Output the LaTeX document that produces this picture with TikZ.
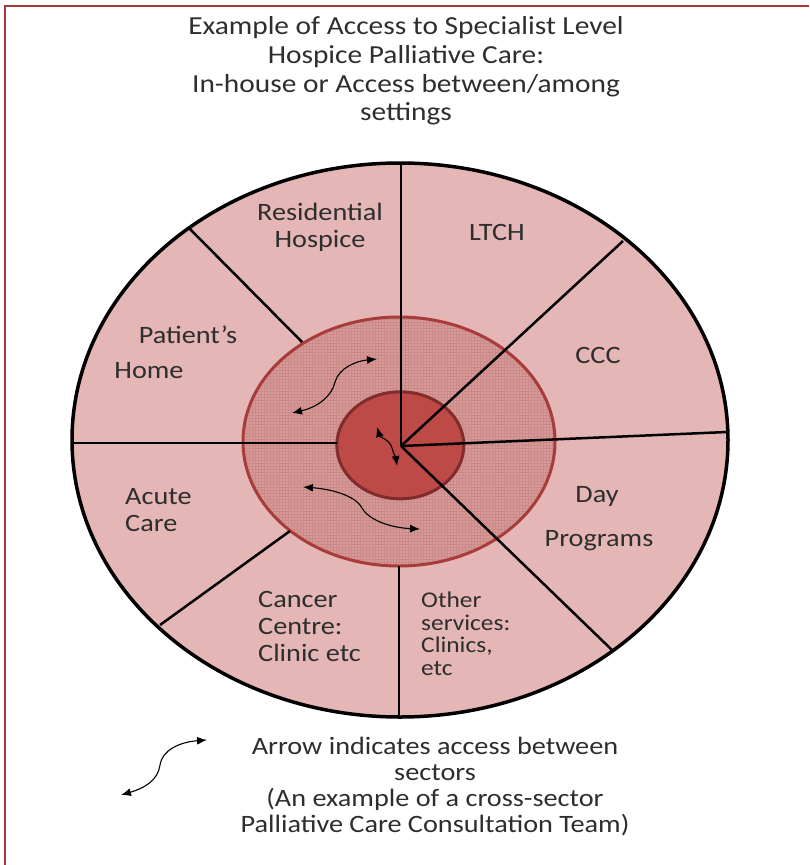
\documentclass[tikz,border=0pt]{standalone}
\usepackage{fontspec}
\setmainfont[FakeStretch=1.13]{Carlito}
\usepackage{xcolor}
\usepackage{tikz}
\usetikzlibrary{arrows.meta,patterns}

\definecolor{framered}{RGB}{165,55,55}
\definecolor{sectorpink}{RGB}{229,182,182}
\definecolor{ringpink}{RGB}{216,154,152}
\definecolor{ringgrid}{RGB}{202,138,136}
\definecolor{ringedge}{RGB}{168,60,58}
\definecolor{corered}{RGB}{190,74,72}
\definecolor{coreedge}{RGB}{128,44,42}

\begin{document}
\begin{tikzpicture}[
    x=1pt, y=-1pt,
    lbl/.style={text=black!82, font=\fontsize{25}{27}\selectfont, align=center, inner sep=0pt},
    small/.style={lbl, font=\fontsize{22.5}{22.5}\selectfont, align=left},
    spoke/.style={line width=2.5pt, black},
    access/.style={line width=1.1pt, {Latex[length=10pt,width=8pt]}-{Latex[length=10pt,width=8pt]}}
]
    \useasboundingbox (0,0) rectangle (809,865);
    \draw[framered, line width=2pt] (809,6) -- (5,6) -- (5,865);

    \node[lbl, font=\fontsize{26}{28.7}\selectfont] (title) at (406,71)
        {Example of Access to Specialist Level\\Hospice Palliative Care:\\In-house or Access between/among\\settings};

    \coordinate (hub) at (401,446);
    \filldraw[fill=sectorpink, draw=black, line width=3.5pt] (400,440) ellipse [x radius=328pt, y radius=277pt];
    \path[preaction={fill=ringpink}, pattern=grid, pattern color=ringgrid, draw=ringedge, line width=3pt]
        (399,441.5) ellipse [x radius=156pt, y radius=124.5pt];
    \filldraw[fill=corered, draw=coreedge, line width=3pt] (400.3,445.3) ellipse [x radius=63.5pt, y radius=53.5pt];

    \coordinate (nTop) at (401,163);
    \coordinate (nUR) at (623,241);
    \coordinate (nRight) at (727,432);
    \coordinate (nLR) at (612,650);
    \coordinate (nBot) at (399,717);
    \coordinate (nBotIn) at (399,566);
    \coordinate (nLL) at (160,625);
    \coordinate (nLLIn) at (290,531);
    \coordinate (nLeft) at (72,443);
    \coordinate (nLeftIn) at (337,443);
    \coordinate (nUL) at (190,229);
    \coordinate (nULIn) at (302,342);

    \draw[spoke] (hub) -- (nTop);
    \draw[spoke] (hub) -- (nUR);
    \draw[spoke] (hub) -- (nRight);
    \draw[spoke] (hub) -- (nLR);
    \draw[spoke] (nBotIn) -- (nBot);
    \draw[spoke] (nLLIn) -- (nLL);
    \draw[spoke] (nLeftIn) -- (nLeft);
    \draw[spoke] (nULIn) -- (nUL);

    \node[lbl] (hospice) at (320,227) {Residential\\Hospice};
    \node[lbl] (ltch) at (497,232) {LTCH};
    \node[lbl] (patient) at (188,335) {Patient’s};
    \node[lbl] (home) at (149,371) {Home};
    \node[lbl] (ccc) at (598,355) {CCC};
    \node[lbl, align=left, anchor=west] (acute) at (125,510) {Acute\\Care};
    \node[lbl] (day) at (597,496) {Day};
    \node[lbl] (programs) at (599,541) {Programs};
    \node[lbl, align=left, anchor=west] (cancer) at (258,626) {Cancer\\Centre:\\Clinic etc};
    \node[small, anchor=west] (other) at (421,634) {Other\\services:\\Clinics,\\etc};

    \coordinate (a1s) at (292,413);
    \coordinate (a1e) at (377,359);
    \draw[access] (a1s) .. controls (318,407) and (332,396) .. (335,382) .. controls (339,368) and (356,361) .. (a1e);
    \coordinate (a2s) at (377,427);
    \coordinate (a2e) at (397,466);
    \draw[access] (a2s) .. controls (380,437) and (390,440) .. (392,448) .. controls (394,455) and (396,458) .. (a2e);
    \coordinate (a3s) at (303,487);
    \coordinate (a3e) at (420,529);
    \draw[access] (a3s) .. controls (330,489) and (355,495) .. (362,508) .. controls (370,522) and (395,528) .. (a3e);

    \coordinate (k1) at (121,795);
    \coordinate (k2) at (207,740);
    \draw[access] (k1) .. controls (145,788) and (158,780) .. (160,765) .. controls (162,750) and (180,742) .. (k2);
    \node[lbl, font=\fontsize{25}{26}\selectfont] (legend) at (435,787)
        {Arrow indicates access between\\sectors\\(An example of a cross-sector\\Palliative Care Consultation Team)};
\end{tikzpicture}
\end{document}
